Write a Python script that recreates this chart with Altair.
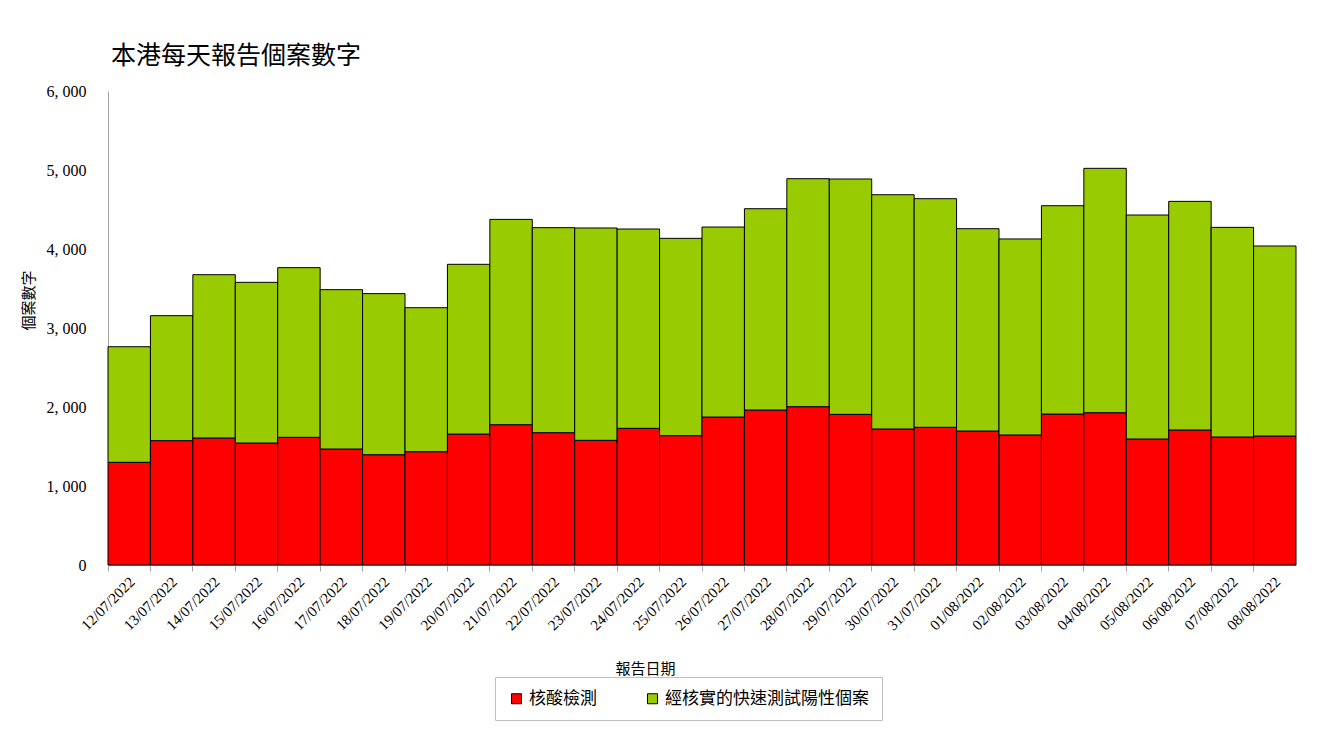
import altair as alt
import pandas as pd

dates = [
    "12/07/2022", "13/07/2022", "14/07/2022", "15/07/2022", "16/07/2022", "17/07/2022",
    "18/07/2022", "19/07/2022", "20/07/2022", "21/07/2022", "22/07/2022", "23/07/2022",
    "24/07/2022", "25/07/2022", "26/07/2022", "27/07/2022", "28/07/2022", "29/07/2022",
    "30/07/2022", "31/07/2022", "01/08/2022", "02/08/2022", "03/08/2022", "04/08/2022",
    "05/08/2022", "06/08/2022", "07/08/2022", "08/08/2022",
]
pcr = [1300, 1574, 1608, 1544, 1616, 1468, 1396, 1434, 1658, 1776, 1675, 1578, 1730, 1637,
       1873, 1962, 2004, 1907, 1722, 1743, 1696, 1646, 1911, 1928, 1595, 1709, 1620, 1633]
rat = [1463, 1582, 2067, 2034, 2148, 2017, 2039, 1823, 2148, 2599, 2595, 2688, 2523, 2498,
       2405, 2548, 2886, 2979, 2965, 2894, 2561, 2481, 2637, 3093, 2835, 2894, 2654, 2405]
series = ["核酸檢測", "經核實的快速測試陽性個案"]
colors = ["#FF0000", "#99CC00"]
y_ticks = [0, 1000, 2000, 3000, 4000, 5000, 6000]

rows = []
for d, p, r in zip(dates, pcr, rat):
    rows.append({"date": d, "series": series[0], "value": p, "ord": 0})
    rows.append({"date": d, "series": series[1], "value": r, "ord": 1})
df = pd.DataFrame(rows)

LAT = "'Liberation Serif', 'Noto Sans CJK TC', serif"
CJK = "'Noto Sans CJK TC', 'Liberation Serif', sans-serif"

chart = alt.Chart(df).mark_bar(stroke="black", strokeWidth=1).encode(
    x=alt.X("date:N", sort=dates, title="報告日期",
            scale=alt.Scale(paddingInner=0, paddingOuter=0),
            axis=alt.Axis(labelAngle=-45, bandPosition=0, labelOffset=-2,
                          labelFont=LAT, labelFontSize=15, labelColor="black",
                          labelPadding=3, tickSize=6, tickColor="#a6a6a6",
                          domainColor="#a6a6a6", titleFont=CJK, titleFontSize=15,
                          titleFontWeight="normal", titleColor="black",
                          titleY=96, titleX=537)),
    y=alt.Y("value:Q", stack="zero",
            scale=alt.Scale(domain=[0, 6000], nice=False),
            axis=alt.Axis(values=y_ticks, grid=False, ticks=False,
                          labelExpr="replace(format(datum.value, ','), ',', ', ')",
                          labelFont=LAT, labelFontSize=16, labelColor="black",
                          labelPadding=22, domainColor="#a6a6a6",
                          title="個案數字", titleFont=CJK, titleFontSize=15,
                          titleFontWeight="normal", titleColor="black",
                          titleAngle=-90, titleX=-80, titleY=209,
                          titleAlign="center", titleBaseline="middle")),
    color=alt.Color("series:N", scale=alt.Scale(domain=series, range=colors),
                    legend=alt.Legend(title=None, orient="none", direction="horizontal",
                                      legendX=387, legendY=586,
                                      symbolType="square", symbolSize=100,
                                      symbolStrokeColor="black", symbolStrokeWidth=1,
                                      labelFont=CJK, labelFontSize=17, labelColor="black",
                                      labelLimit=0, labelOffset=4, columnPadding=47,
                                      strokeColor="#bfbfbf", fillColor="white",
                                      padding=13)),
    order=alt.Order("ord:Q"),
).properties(
    width=1188,
    height=474,
    title=alt.TitleParams("本港每天報告個案數字", anchor="start", frame="group", font=CJK,
                          fontSize=25, fontWeight="normal", color="black",
                          dx=3, offset=14),
    padding={"left": 13, "top": 36, "right": 10, "bottom": 5},
).configure_view(stroke=None)

chart.save("out.html", embed_options={"renderer": "svg", "actions": False})
